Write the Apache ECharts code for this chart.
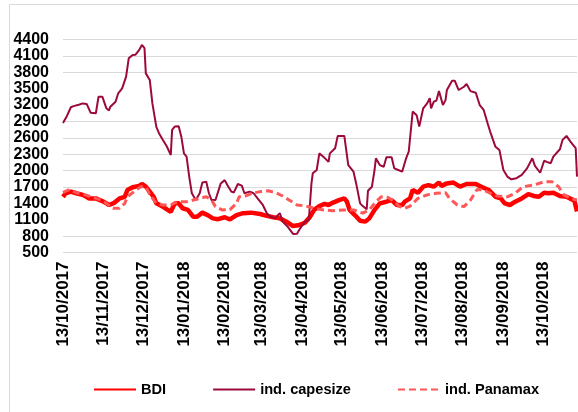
<!DOCTYPE html>
<html>
<head>
<meta charset="utf-8">
<script src="https://cdn.jsdelivr.net/npm/echarts@6/dist/echarts.min.js"></script>
<style>
  html, body { margin: 0; padding: 0; background: #fff; }
  #chart { width: 578px; height: 412px; }
</style>
</head>
<body>
<div id="chart"></div>
<script>
// x axis labels (13th of every month)
var labelDates = ['2017-10-13', '2017-11-13', '2017-12-13', '2018-01-13', '2018-02-13', '2018-03-13',
    '2018-04-13', '2018-05-13', '2018-06-13', '2018-07-13', '2018-08-13', '2018-09-13', '2018-10-13'];

// BDI
var bdiDates = ['2017-10-13', '2017-10-15', '2017-10-19', '2017-10-23', '2017-10-28', '2017-11-02', '2017-11-07',
    '2017-11-11', '2017-11-15', '2017-11-17', '2017-11-21', '2017-11-25', '2017-11-29', '2017-12-01', '2017-12-05',
    '2017-12-10', '2017-12-12', '2017-12-15', '2017-12-18', '2017-12-21', '2017-12-23', '2017-12-28', '2017-12-31',
    '2018-01-03', '2018-01-06', '2018-01-09', '2018-01-12', '2018-01-16', '2018-01-20', '2018-01-23', '2018-01-27',
    '2018-01-31', '2018-02-04', '2018-02-08', '2018-02-13', '2018-02-17', '2018-02-22', '2018-02-27', '2018-03-05',
    '2018-03-12', '2018-03-17', '2018-03-22', '2018-03-27', '2018-04-01', '2018-04-06', '2018-04-11', '2018-04-15',
    '2018-04-19', '2018-04-22', '2018-04-26', '2018-04-30', '2018-05-03', '2018-05-06', '2018-05-11', '2018-05-15',
    '2018-05-17', '2018-05-19', '2018-05-23', '2018-05-27', '2018-05-31', '2018-06-03', '2018-06-07', '2018-06-11',
    '2018-06-16', '2018-06-20', '2018-06-24', '2018-06-28', '2018-06-30', '2018-07-04', '2018-07-06', '2018-07-10',
    '2018-07-14', '2018-07-18', '2018-07-22', '2018-07-26', '2018-07-28', '2018-08-01', '2018-08-06', '2018-08-11',
    '2018-08-16', '2018-08-23', '2018-08-28', '2018-09-02', '2018-09-07', '2018-09-11', '2018-09-14', '2018-09-18',
    '2018-09-22', '2018-09-27', '2018-10-02', '2018-10-06', '2018-10-10', '2018-10-14', '2018-10-17', '2018-10-21',
    '2018-10-26', '2018-10-31', '2018-11-06', '2018-11-08'];
var bdiValues = [1520, 1585, 1615, 1585, 1555, 1490, 1490,
    1450, 1400, 1370, 1410, 1490, 1520, 1645, 1695,
    1720, 1755, 1705, 1615, 1520, 1400, 1340, 1290,
    1245, 1400, 1400, 1310, 1280, 1155, 1155, 1230,
    1185, 1125, 1110, 1145, 1105, 1185, 1220, 1230,
    1205, 1170, 1145, 1125, 1065, 985, 1005, 1045,
    1155, 1280, 1350, 1390, 1370, 1410, 1460, 1490,
    1430, 1280, 1185, 1080, 1065, 1125, 1280, 1400,
    1430, 1460, 1370, 1370, 1430, 1490, 1645, 1595,
    1705, 1735, 1705, 1780, 1720, 1765, 1780, 1705,
    1755, 1755, 1695, 1645, 1520, 1490, 1400, 1370,
    1430, 1490, 1570, 1535, 1520, 1595, 1585, 1595,
    1535, 1520, 1450, 1250];

// ind. capesize
var capeDates = ['2017-10-13', '2017-10-16', '2017-10-19', '2017-10-21', '2017-10-25', '2017-10-28', '2017-10-31',
    '2017-11-03', '2017-11-07', '2017-11-09', '2017-11-12', '2017-11-15', '2017-11-17', '2017-11-18', '2017-11-22',
    '2017-11-24', '2017-11-27', '2017-11-30', '2017-12-02', '2017-12-05', '2017-12-07', '2017-12-10', '2017-12-12',
    '2017-12-14', '2017-12-15', '2017-12-18', '2017-12-20', '2017-12-23', '2017-12-25', '2017-12-28', '2017-12-31',
    '2018-01-03', '2018-01-04', '2018-01-06', '2018-01-09', '2018-01-11', '2018-01-13', '2018-01-15', '2018-01-17',
    '2018-01-19', '2018-01-22', '2018-01-25', '2018-01-27', '2018-01-30', '2018-02-01', '2018-02-03', '2018-02-06',
    '2018-02-10', '2018-02-13', '2018-02-15', '2018-02-18', '2018-02-20', '2018-02-23', '2018-02-26', '2018-02-28',
    '2018-03-04', '2018-03-07', '2018-03-10', '2018-03-14', '2018-03-17', '2018-03-20', '2018-03-23', '2018-03-27',
    '2018-03-29', '2018-04-02', '2018-04-06', '2018-04-09', '2018-04-11', '2018-04-15', '2018-04-18', '2018-04-20',
    '2018-04-21', '2018-04-24', '2018-04-26', '2018-04-29', '2018-05-03', '2018-05-04', '2018-05-08', '2018-05-10',
    '2018-05-15', '2018-05-18', '2018-05-22', '2018-05-24', '2018-05-27', '2018-05-29', '2018-06-01', '2018-06-02',
    '2018-06-05', '2018-06-07', '2018-06-08', '2018-06-11', '2018-06-14', '2018-06-16', '2018-06-20', '2018-06-22',
    '2018-06-25', '2018-06-28', '2018-07-01', '2018-07-03', '2018-07-06', '2018-07-09', '2018-07-11', '2018-07-14',
    '2018-07-17', '2018-07-19', '2018-07-20', '2018-07-22', '2018-07-24', '2018-07-26', '2018-07-29', '2018-07-31',
    '2018-08-01', '2018-08-05', '2018-08-07', '2018-08-10', '2018-08-14', '2018-08-16', '2018-08-19', '2018-08-23',
    '2018-08-26', '2018-08-29', '2018-09-01', '2018-09-03', '2018-09-07', '2018-09-10', '2018-09-13', '2018-09-16',
    '2018-09-19', '2018-09-23', '2018-09-27', '2018-10-01', '2018-10-05', '2018-10-07', '2018-10-11', '2018-10-14',
    '2018-10-16', '2018-10-19', '2018-10-21', '2018-10-26', '2018-10-28', '2018-10-31', '2018-11-03', '2018-11-07',
    '2018-11-08'];
var capeValues = [2870, 3000, 3160, 3180, 3205, 3230, 3220,
    3060, 3050, 3350, 3350, 3140, 3100, 3170, 3260,
    3415, 3505, 3720, 4055, 4115, 4120, 4210, 4300,
    4240, 3780, 3660, 3230, 2800, 2685, 2560, 2440,
    2285, 2745, 2805, 2810, 2620, 2315, 2255, 1890,
    1585, 1460, 1585, 1780, 1795, 1585, 1460, 1460,
    1765, 1825, 1735, 1615, 1600, 1755, 1725, 1585,
    1615, 1585, 1490, 1370, 1220, 1155, 1125, 1220,
    1065, 970, 840, 845, 925, 1065, 1095, 1765,
    1950, 2010, 2315, 2255, 2160, 2315, 2410, 2635,
    2635, 2100, 1980, 1765, 1400, 1350, 1290, 1630,
    1705, 2010, 2225, 2100, 2070, 2245, 2245, 2040,
    2010, 1980, 2225, 2345, 3080, 3015, 2805, 3140,
    3230, 3325, 3140, 3260, 3280, 3455, 3200, 3290,
    3475, 3645, 3645, 3475, 3535, 3585, 3455, 3425,
    3200, 3110, 2865, 2710, 2435, 2375, 2010, 1890,
    1840, 1860, 1920, 2040, 2225, 2085, 1960, 2180,
    2160, 2135, 2255, 2390, 2560, 2635, 2530, 2410,
    1890];

// ind. Panamax
var panaDates = ['2017-10-13', '2017-10-18', '2017-10-23', '2017-10-30', '2017-11-07', '2017-11-11', '2017-11-15',
    '2017-11-20', '2017-11-25', '2017-11-29', '2017-12-01', '2017-12-06', '2017-12-11', '2017-12-15', '2017-12-18',
    '2017-12-23', '2017-12-28', '2018-01-03', '2018-01-08', '2018-01-15', '2018-01-20', '2018-01-25', '2018-01-30',
    '2018-02-03', '2018-02-06', '2018-02-11', '2018-02-17', '2018-02-22', '2018-02-24', '2018-03-01', '2018-03-06',
    '2018-03-12', '2018-03-18', '2018-03-24', '2018-03-29', '2018-04-03', '2018-04-09', '2018-04-16', '2018-04-22',
    '2018-04-29', '2018-05-06', '2018-05-14', '2018-05-22', '2018-05-29', '2018-06-03', '2018-06-07', '2018-06-12',
    '2018-06-17', '2018-06-21', '2018-06-26', '2018-06-30', '2018-07-04', '2018-07-10', '2018-07-17', '2018-07-24',
    '2018-07-31', '2018-08-03', '2018-08-09', '2018-08-14', '2018-08-19', '2018-08-24', '2018-08-29', '2018-09-03',
    '2018-09-08', '2018-09-16', '2018-09-22', '2018-09-28', '2018-10-06', '2018-10-14', '2018-10-20', '2018-10-25',
    '2018-10-29', '2018-11-03', '2018-11-08'];
var panaValues = [1600, 1655, 1595, 1555, 1490, 1460, 1400,
    1310, 1310, 1400, 1520, 1615, 1705, 1705, 1555,
    1400, 1370, 1370, 1430, 1430, 1460, 1490, 1520,
    1460, 1340, 1280, 1285, 1400, 1520, 1535, 1585,
    1615, 1630, 1595, 1535, 1460, 1370, 1350, 1310,
    1280, 1265, 1280, 1280, 1220, 1280, 1400, 1520,
    1510, 1450, 1340, 1310, 1350, 1490, 1555, 1585,
    1595, 1490, 1370, 1340, 1460, 1655, 1645, 1585,
    1535, 1520, 1585, 1705, 1735, 1795, 1795, 1705,
    1555, 1490, 1460];

var yTicks = [500, 800, 1100, 1400, 1700, 2000, 2300, 2600, 2900, 3200, 3500, 3800, 4100, 4400];

function toTime(d) {
    return echarts.number.parseDate(d).getTime();
}

function zip(dates, values) {
    return dates.map(function (d, i) { return [toTime(d), values[i]]; });
}

function pad(n) { return n < 10 ? '0' + n : '' + n; }

var font = "'Liberation Sans', Arial, sans-serif";
var gridColor = '#d9d9d9';
// the picture shows no gridline at 1100, 1400, 3200 and 3500
var gridColors = yTicks.map(function (v) {
    return (v === 1100 || v === 1400 || v === 3200 || v === 3500) ? 'rgba(0,0,0,0)' : gridColor;
});

var myChart = echarts.init(document.getElementById('chart'), null, {renderer: 'canvas'});

var option = {
    backgroundColor: '#fff',
    animation: false,
    graphic: [{
        type: 'rect',
        shape: {x: 9.5, y: 4.5, width: 620, height: 440},
        style: {fill: 'none', stroke: gridColor, lineWidth: 1},
        silent: true,
        z: -10
    }],
    grid: {
        left: 63,
        right: 1,
        top: 39.5,
        bottom: 159.5
    },
    legend: {
        left: 93,
        top: 382,
        padding: 0,
        itemWidth: 42,
        itemHeight: 14,
        itemGap: 46,
        itemStyle: {opacity: 0},
        textStyle: {
            fontFamily: font,
            fontSize: 14.6,
            fontWeight: 'bold',
            color: '#000'
        },
        data: ['BDI', 'ind. capesize', 'ind. Panamax']
    },
    xAxis: {
        type: 'value',
        min: toTime('2017-10-13'),
        max: toTime('2018-11-08'),
        axisLine: {show: false},
        axisTick: {show: false},
        splitLine: {show: false},
        axisLabel: {
            customValues: labelDates.map(toTime),
            rotate: 90,
            margin: 9,
            fontFamily: font,
            fontSize: 17,
            fontWeight: 'bold',
            color: '#000',
            formatter: function (value) {
                var d = new Date(value);
                return pad(d.getDate()) + '/' + pad(d.getMonth() + 1) + '/' + d.getFullYear();
            }
        }
    },
    yAxis: {
        type: 'value',
        min: 500,
        max: 4400,
        interval: 300,
        axisLine: {show: false},
        axisTick: {show: false},
        axisLabel: {
            margin: 14,
            fontFamily: font,
            fontSize: 16,
            fontWeight: 'bold',
            color: '#000',
            formatter: function (v) { return String(v); }
        },
        splitLine: {
            show: true,
            lineStyle: {color: gridColors, width: 1}
        }
    },
    series: [{
        name: 'BDI',
        type: 'line',
        symbol: 'none',
        data: zip(bdiDates, bdiValues),
        lineStyle: {color: '#ff0000', width: 4.5},
        itemStyle: {color: '#ff0000'}
    }, {
        name: 'ind. capesize',
        type: 'line',
        symbol: 'none',
        data: zip(capeDates, capeValues),
        lineStyle: {color: '#9c0a3b', width: 2},
        itemStyle: {color: '#9c0a3b'}
    }, {
        name: 'ind. Panamax',
        type: 'line',
        symbol: 'none',
        data: zip(panaDates, panaValues),
        lineStyle: {color: '#ff5757', width: 3, type: [7, 4]},
        itemStyle: {color: '#ff5757'}
    }]
};

myChart.setOption(option);
</script>
</body>
</html>
